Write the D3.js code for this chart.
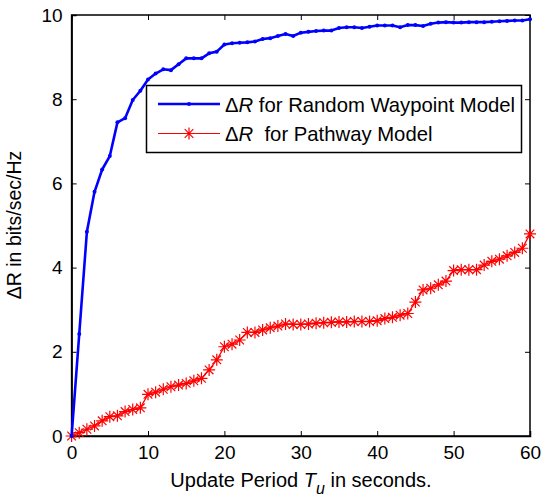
<!DOCTYPE html>
<html>
<head>
<meta charset="utf-8">
<script src="https://cdn.jsdelivr.net/npm/d3@7"></script>
<style>
  body { margin: 0; background: #fff; }
  text { font-family: "Liberation Sans", Arial, sans-serif; fill: #000; }
</style>
</head>
<body>
<div id="okvir"></div>
<script>
// update period T_u (s)
const periodi = d3.range(0, 61)

// ΔR for Random Waypoint Model
const rwpVrijednosti = [0, 2.42, 4.85, 5.80, 6.33, 6.65, 7.45, 7.55, 7.98, 8.20,
  8.47, 8.61, 8.71, 8.69, 8.83, 8.97, 8.97, 8.97, 9.09, 9.13,
  9.30, 9.33, 9.34, 9.35, 9.37, 9.43, 9.45, 9.50, 9.55, 9.50,
  9.58, 9.60, 9.62, 9.63, 9.63, 9.69, 9.71, 9.71, 9.69, 9.72,
  9.75, 9.75, 9.75, 9.71, 9.76, 9.76, 9.74, 9.79, 9.82, 9.83,
  9.82, 9.82, 9.83, 9.83, 9.83, 9.84, 9.85, 9.86, 9.87, 9.87, 9.90]

// ΔR for Pathway Model
const pathwayVrijednosti = [0, 0.08, 0.16, 0.24, 0.36, 0.46, 0.48, 0.58, 0.63, 0.67,
  0.99, 1.04, 1.11, 1.17, 1.21, 1.25, 1.31, 1.37, 1.57, 1.81,
  2.12, 2.18, 2.28, 2.46, 2.46, 2.52, 2.57, 2.61, 2.66, 2.65,
  2.65, 2.66, 2.68, 2.69, 2.70, 2.71, 2.71, 2.72, 2.72, 2.72,
  2.74, 2.79, 2.82, 2.87, 2.91, 3.18, 3.47, 3.51, 3.59, 3.68,
  3.93, 3.95, 3.95, 3.95, 4.06, 4.15, 4.20, 4.28, 4.36, 4.46, 4.80]

const xTicks = [0, 10, 20, 30, 40, 50, 60]
const yTicks = [0, 2, 4, 6, 8, 10]
const legendaNazivi = ["for Random Waypoint Model", " for Pathway Model"]

const dimenzije = {
  sirina: 548,
  visina: 497,
  margine: { top: 15, right: 18, bottom: 61, left: 71.6 }
}
dimenzije.grSirina = dimenzije.sirina - dimenzije.margine.left - dimenzije.margine.right
dimenzije.grVisina = dimenzije.visina - dimenzije.margine.top - dimenzije.margine.bottom

const okvir = d3.select("#okvir").append("svg")
    .attr("width", dimenzije.sirina)
    .attr("height", dimenzije.visina)

const granice = okvir.append("g")
    .attr("transform", `translate(${dimenzije.margine.left}, ${dimenzije.margine.top})`)

const xSkala = d3.scaleLinear().domain([0, 60]).range([0, dimenzije.grSirina])
const ySkala = d3.scaleLinear().domain([0, 10]).range([dimenzije.grVisina, 0])

// osi (MATLAB stil, kvacice prema unutra)
const tickLen = 5
const fontTick = 19

const xOs = granice.append("g")
    .attr("transform", `translate(0, ${dimenzije.grVisina})`)
    .call(d3.axisBottom(xSkala).tickValues(xTicks).tickSize(-tickLen).tickPadding(10).tickFormat(d3.format("d")))
const xOsGore = granice.append("g")
    .call(d3.axisTop(xSkala).tickValues(xTicks).tickSize(-tickLen).tickFormat(""))
const yOs = granice.append("g")
    .call(d3.axisLeft(ySkala).tickValues(yTicks).tickSize(-tickLen).tickPadding(9).tickFormat(d3.format("d")))
const yOsDesno = granice.append("g")
    .attr("transform", `translate(${dimenzije.grSirina}, 0)`)
    .call(d3.axisRight(ySkala).tickValues(yTicks).tickSize(-tickLen).tickFormat(""))

granice.selectAll(".domain").attr("stroke", "#000").attr("stroke-width", 1.5)
granice.selectAll(".tick line").attr("stroke", "#000").attr("stroke-width", 1)
granice.selectAll(".tick text")
    .style("font-size", fontTick + "px")
    .style("font-family", "'Liberation Sans', Arial, sans-serif")
    .attr("fill", "#000")
xOsGore.select(".domain").remove()
yOsDesno.select(".domain").remove()
granice.append("rect")
    .attr("width", dimenzije.grSirina)
    .attr("height", dimenzije.grVisina)
    .attr("fill", "none")
    .attr("stroke", "#000")
    .attr("stroke-width", 1.5)

// 5. Crtanje podataka
const linija = vrijednosti => d3.line()
    .x((d, i) => xSkala(periodi[i]))
    .y(d => ySkala(d))(vrijednosti)

const zvijezda = (g, x, y, r) => {
  const d = r * 0.72
  g.append("path")
    .attr("d", `M${x - r},${y}L${x + r},${y}M${x},${y - r}L${x},${y + r}` +
               `M${x - d},${y - d}L${x + d},${y + d}M${x - d},${y + d}L${x + d},${y - d}`)
    .attr("stroke", "#ff0000")
    .attr("stroke-width", 1.2)
    .attr("fill", "none")
}

// pathway model
granice.append("path")
    .attr("d", linija(pathwayVrijednosti))
    .attr("fill", "none")
    .attr("stroke", "#ff0000")
    .attr("stroke-width", 1.3)
const zvijezde = granice.append("g")
pathwayVrijednosti.forEach((v, i) => zvijezda(zvijezde, xSkala(periodi[i]), ySkala(v), 6))

// random waypoint model
granice.append("path")
    .attr("d", linija(rwpVrijednosti))
    .attr("fill", "none")
    .attr("stroke", "#0000ff")
    .attr("stroke-width", 2.6)
    .attr("stroke-linejoin", "round")
granice.append("g").selectAll("circle")
    .data(rwpVrijednosti)
    .join("circle")
    .attr("cx", (d, i) => xSkala(periodi[i]))
    .attr("cy", d => ySkala(d))
    .attr("r", 2)
    .attr("fill", "#0000ff")

// legenda
const legenda = okvir.append("g")
legenda.append("rect")
    .attr("x", 146.5).attr("y", 85.5)
    .attr("width", 375).attr("height", 67)
    .attr("fill", "#fff").attr("stroke", "#000").attr("stroke-width", 1.5)

legenda.append("line")
    .attr("x1", 158).attr("x2", 220).attr("y1", 104).attr("y2", 104)
    .attr("stroke", "#0000ff").attr("stroke-width", 2.6)
legenda.append("circle").attr("cx", 189).attr("cy", 104).attr("r", 2).attr("fill", "#0000ff")
legenda.append("line")
    .attr("x1", 158).attr("x2", 220).attr("y1", 133.5).attr("y2", 133.5)
    .attr("stroke", "#ff0000").attr("stroke-width", 1.2)
zvijezda(legenda, 189, 133.5, 6)

const legTekst = (y, naziv) => {
  const t = legenda.append("text")
      .attr("x", 225).attr("y", y)
      .style("font-size", "20.3px")
  t.append("tspan").text("Δ")
  t.append("tspan").style("font-style", "italic").text("R")
  t.append("tspan").attr("xml:space", "preserve").text(" " + naziv)
}
legTekst(111.5, legendaNazivi[0])
legTekst(141, legendaNazivi[1])

// oznake osi
const xOznaka = okvir.append("text")
    .attr("x", 301).attr("y", 487)
    .attr("text-anchor", "middle")
    .style("font-size", "20px")
xOznaka.append("tspan").text("Update Period ")
xOznaka.append("tspan").style("font-style", "italic").text("T")
xOznaka.append("tspan").style("font-style", "italic").style("font-size", "16px").attr("dy", 7).text("u")
xOznaka.append("tspan").attr("dy", -7).text(" in seconds.")

okvir.append("text")
    .attr("transform", "translate(21, 225) rotate(-90)")
    .attr("text-anchor", "middle")
    .style("font-size", "19.5px")
    .text("ΔR in bits/sec/Hz")
</script>
</body>
</html>
